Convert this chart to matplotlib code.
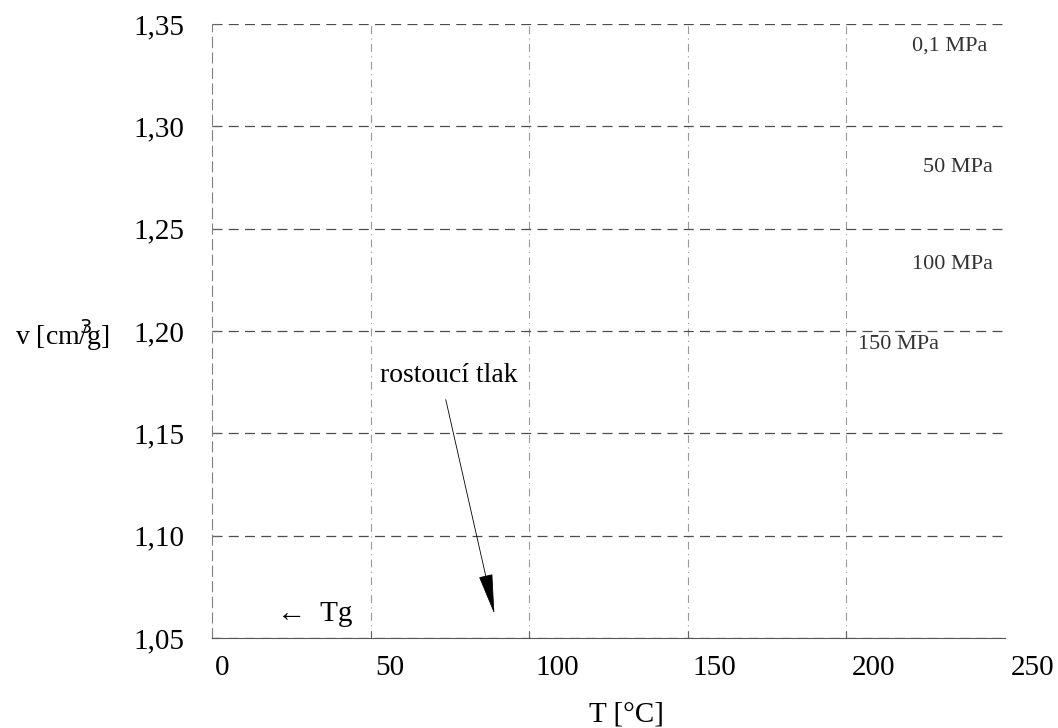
import matplotlib
matplotlib.use('Agg')
import matplotlib.pyplot as plt
from matplotlib.transforms import ScaledTranslation

plt.rcParams['font.family'] = ['Liberation Serif', 'DejaVu Serif']

# axis settings
x_ticks = [0, 50, 100, 150, 200, 250]
y_ticks = [1.05, 1.10, 1.15, 1.20, 1.25, 1.30, 1.35]
y_tick_labels = ['1,05', '1,10', '1,15', '1,20', '1,25', '1,30', '1,35']

# pressure labels (text, T, v)
pressure_labels = ['0,1 MPa', '50 MPa', '100 MPa', '150 MPa']
pressure_T = [244.6, 246.2, 246.2, 203.7]
pressure_v = [1.3393, 1.2801, 1.2327, 1.1935]

# arrow for increasing pressure
arrow_from = (73.5, 1.1678)
arrow_to = (89.2, 1.0605)

fig = plt.figure(figsize=(10.58, 7.28), dpi=100)
ax = fig.add_axes([0.2004, 0.1236, 0.7495, 0.8434])

ax.set_xlim(0, 250)
ax.set_ylim(1.05, 1.35)
ax.set_xticks(x_ticks)
ax.set_yticks(y_ticks)
ax.set_yticklabels(y_tick_labels)

ax.grid(True, color='0.3', linestyle=(0, (8, 5)), linewidth=0.9)
for line in ax.get_xgridlines():
    line.set_color('0.6')
    line.set_linestyle((0, (7, 4, 1, 4)))
    line.set_linewidth(0.8)
# no vertical gridline on the edges
ax.get_xgridlines()[-1].set_visible(False)
ax.get_xgridlines()[0].set_visible(False)
ax.xaxis.get_major_ticks()[-1].tick1line.set_visible(False)

ax.spines['top'].set_visible(False)
ax.spines['right'].set_visible(False)
ax.spines['left'].set_linestyle((0, (9, 5)))
ax.spines['left'].set_color('0.5')
ax.spines['bottom'].set_color('0.35')

ax.tick_params(axis='both', direction='in', length=5, width=0.8, color='0.4',
               labelsize=21)
ax.tick_params(axis='y', pad=20)
ax.tick_params(axis='x', pad=12)
x_label_shift = [0.10, 0.19, 0.28, 0.27, 0.27, 0.28]
for lbl, dx in zip(ax.get_xticklabels(), x_label_shift):
    lbl.set_transform(lbl.get_transform()
                      + ScaledTranslation(dx, 0, fig.dpi_scale_trans))

fig.text(0.592, 0.018, 'T [°C]', fontsize=21, ha='center', va='center')
fig.text(0.059, 0.54, 'v [cm$^3\\!\\!\\!$/g]', fontsize=20, ha='center', va='center')

for label, t, v in zip(pressure_labels, pressure_T, pressure_v):
    ha = 'left' if label == '150 MPa' else 'right'
    ax.text(t, v, label, fontsize=16, ha=ha, va='center', color='0.2',
            clip_on=False)

ax.text(74.7, 1.1785, 'rostoucí tlak', fontsize=20, ha='center', va='center')
ax.annotate('', xy=arrow_to, xytext=arrow_from,
            arrowprops=dict(arrowstyle='-|>,head_length=2.6,head_width=0.45',
                            color='black', lw=0.6))
ax.text(32.5, 1.0615, '←  Tg', fontsize=21, ha='center', va='center')

fig.savefig('out.png', dpi=100)
